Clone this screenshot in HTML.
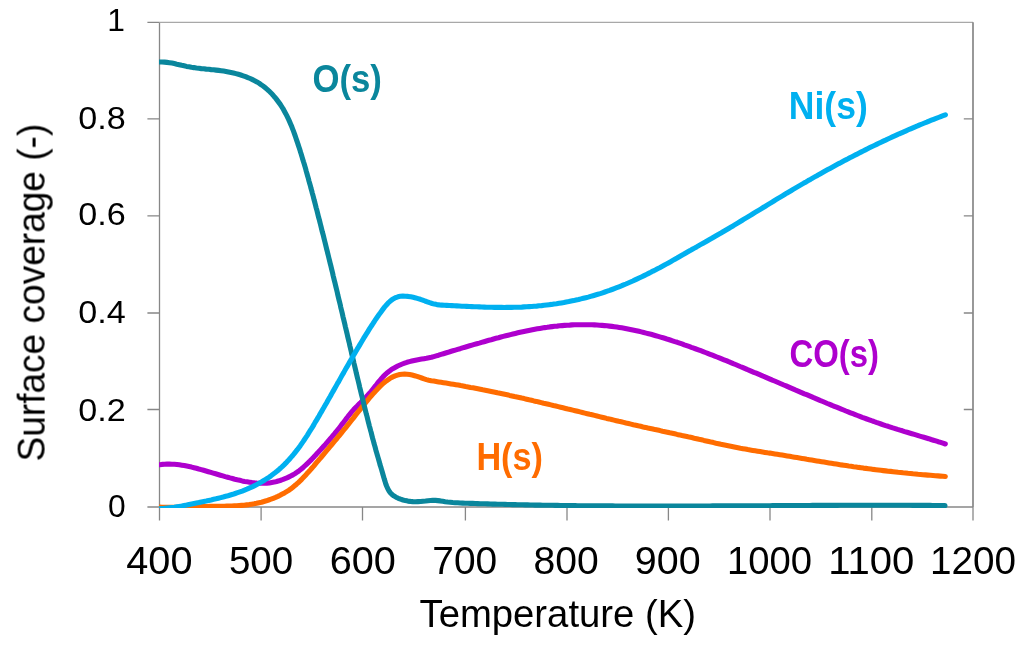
<!DOCTYPE html>
<html><head><meta charset="utf-8"><style>
html,body{margin:0;padding:0;background:#fff;width:1024px;height:645px;overflow:hidden}
svg{display:block}
text{font-family:"Liberation Sans",sans-serif;fill:#000}
.yl{font-size:31.8px}
.xl{font-size:38.2px}
.at{font-size:38.5px}
.sl{font-size:39px;font-weight:bold}
</style></head><body>
<svg width="1024" height="645" viewBox="0 0 1024 645">
<rect width="1024" height="645" fill="#fff"/>
<g stroke="#878787" stroke-width="1.3" fill="none">
<path d="M147.4 22.3H159.5M159.5 22.3V520.5"/>
<path d="M147.4 507.0H973.0" stroke-width="1.6"/>
<path d="M973.0 507.0V520.5"/>
<path d="M159.5 22.3H973.0" stroke="#a8a8a8" stroke-width="1.2"/>
<path d="M973.0 22.3V507.0" stroke="#878787" stroke-width="1.7"/>
<path d="M147.4 409.5H159.5M963.8 409.5H973.0"/>
<path d="M147.4 313.0H159.5M963.8 313.0H973.0"/>
<path d="M147.4 215.8H159.5M963.8 215.8H973.0"/>
<path d="M147.4 118.8H159.5M963.8 118.8H973.0"/>
<path d="M261.1 507.0V520.5"/>
<path d="M362.5 507.0V520.5"/>
<path d="M465.4 507.0V520.5"/>
<path d="M567.0 507.0V520.5"/>
<path d="M668.4 507.0V520.5"/>
<path d="M770.0 507.0V520.5"/>
<path d="M871.8 507.0V520.5"/>
</g>
<clipPath id="c"><rect x="159" y="0" width="865" height="508.1"/></clipPath>
<g clip-path="url(#c)" fill="none" stroke-width="5.1" stroke-linecap="round" stroke-linejoin="round">
<path d="M159.4 464.8L161.9 464.4 164.4 464.2 166.9 464.1 169.4 464.1 171.9 464.2 174.4 464.3 176.9 464.5 179.4 464.8 181.8 465.2 184.3 465.6 186.7 466.1 189.1 466.6 191.6 467.1 194.0 467.7 196.4 468.3 198.8 469.0 201.2 469.6 203.6 470.3 206.0 471.0 208.4 471.7 210.8 472.4 213.2 473.1 215.6 473.8 218.0 474.5 220.4 475.2 222.8 475.9 225.2 476.6 227.6 477.2 230.0 477.9 232.4 478.5 234.8 479.2 237.2 479.8 239.7 480.3 242.1 480.9 244.6 481.4 247.1 481.8 249.5 482.2 252.0 482.6 254.5 482.9 256.9 483.1 259.4 483.2 261.9 483.3 264.4 483.2 266.8 483.1 269.3 482.9 271.8 482.5 274.2 482.1 276.6 481.5 279.1 480.8 281.5 480.0 283.8 479.1 286.2 478.2 288.5 477.1 290.7 476.0 292.9 474.9 295.0 473.6 297.1 472.2 299.1 470.8 301.0 469.3 302.9 467.7 304.7 466.0 306.5 464.3 308.3 462.6 310.1 460.9 311.9 459.1 313.6 457.3 315.3 455.4 317.0 453.6 318.7 451.8 320.4 449.9 322.1 448.1 323.7 446.2 325.4 444.4 327.1 442.5 328.7 440.6 330.3 438.7 331.9 436.9 333.5 435.0 335.1 433.0 336.7 431.1 338.3 429.2 339.8 427.2 341.3 425.2 342.9 423.2 344.4 421.2 345.9 419.2 347.4 417.3 348.9 415.3 350.5 413.3 352.1 411.4 353.7 409.6 355.4 407.8 357.2 406.0 358.9 404.2 360.7 402.5 362.4 400.7 364.2 398.9 365.9 397.2 367.7 395.3 369.3 393.5 371.0 391.6 372.6 389.6 374.1 387.7 375.7 385.7 377.2 383.7 378.8 381.7 380.4 379.8 382.0 377.9 383.7 376.1 385.5 374.3 387.3 372.7 389.2 371.2 391.2 369.7 393.3 368.4 395.5 367.2 397.7 366.0 400.0 365.0 402.3 364.0 404.6 363.1 407.0 362.3 409.4 361.6 411.8 361.0 414.3 360.4 416.7 359.9 419.2 359.5 421.6 359.1 424.1 358.7 426.5 358.3 429.0 357.8 431.4 357.3 433.8 356.6 436.2 355.9 438.6 355.2 441.0 354.4 443.4 353.7 445.7 353.0 448.1 352.3 450.5 351.5 452.9 350.8 455.3 350.1 457.7 349.4 460.1 348.7 462.5 347.9 464.9 347.2 467.3 346.5 469.7 345.8 472.0 345.1 474.4 344.4 476.8 343.7 479.2 343.1 481.6 342.4 484.0 341.7 486.4 341.0 488.8 340.3 491.2 339.7 493.6 339.0 496.0 338.3 498.5 337.7 500.9 337.0 503.3 336.4 505.7 335.8 508.1 335.2 510.5 334.6 512.9 334.0 515.4 333.4 517.8 332.8 520.2 332.2 522.7 331.7 525.1 331.2 527.5 330.7 530.0 330.2 532.4 329.7 534.9 329.2 537.4 328.8 539.8 328.4 542.3 328.0 544.7 327.6 547.2 327.3 549.7 326.9 552.2 326.6 554.7 326.3 557.1 326.1 559.6 325.8 562.1 325.6 564.6 325.4 567.1 325.2 569.6 325.1 572.1 324.9 574.6 324.8 577.1 324.7 579.5 324.7 582.0 324.7 584.5 324.7 587.0 324.7 589.5 324.7 592.0 324.8 594.5 324.9 597.0 325.0 599.5 325.2 602.0 325.4 604.4 325.6 606.9 325.8 609.4 326.1 611.9 326.4 614.3 326.7 616.8 327.0 619.3 327.4 621.7 327.8 624.2 328.2 626.6 328.7 629.1 329.2 631.5 329.7 634.0 330.2 636.4 330.7 638.9 331.3 641.3 331.9 643.7 332.5 646.1 333.1 648.6 333.7 651.0 334.3 653.4 335.0 655.8 335.7 658.2 336.4 660.6 337.1 663.0 337.8 665.4 338.5 667.8 339.3 670.1 340.0 672.5 340.8 674.9 341.6 677.3 342.3 679.6 343.1 682.0 343.9 684.3 344.8 686.7 345.6 689.0 346.4 691.4 347.3 693.7 348.1 696.1 349.0 698.4 349.8 700.8 350.7 703.1 351.6 705.4 352.5 707.7 353.4 710.1 354.3 712.4 355.2 714.7 356.1 717.0 357.0 719.3 357.9 721.7 358.9 724.0 359.8 726.3 360.7 728.6 361.7 730.9 362.6 733.2 363.6 735.5 364.5 737.8 365.5 740.1 366.5 742.4 367.4 744.7 368.4 747.0 369.4 749.3 370.3 751.6 371.3 753.9 372.3 756.2 373.2 758.5 374.2 760.8 375.2 763.1 376.2 765.4 377.1 767.7 378.1 770.0 379.1 772.3 380.1 774.6 381.0 776.9 382.0 779.2 383.0 781.5 384.0 783.8 385.0 786.1 385.9 788.3 386.9 790.6 387.9 792.9 388.9 795.2 389.9 797.5 390.8 799.8 391.8 802.1 392.8 804.4 393.8 806.7 394.7 809.0 395.7 811.3 396.7 813.6 397.7 815.9 398.6 818.2 399.6 820.5 400.6 822.8 401.5 825.1 402.5 827.4 403.5 829.7 404.4 832.0 405.4 834.3 406.3 836.6 407.2 839.0 408.2 841.3 409.1 843.6 410.0 845.9 411.0 848.2 411.9 850.5 412.8 852.9 413.7 855.2 414.6 857.5 415.5 859.8 416.4 862.2 417.3 864.5 418.1 866.9 419.0 869.2 419.8 871.5 420.7 873.9 421.5 876.2 422.4 878.6 423.2 881.0 424.0 883.3 424.8 885.7 425.6 888.1 426.3 890.4 427.1 892.8 427.9 895.2 428.6 897.6 429.4 900.0 430.1 902.4 430.8 904.7 431.6 907.1 432.3 909.5 433.0 911.9 433.7 914.3 434.4 916.7 435.1 919.1 435.9 921.5 436.6 923.9 437.3 926.3 438.0 928.7 438.7 931.1 439.5 933.4 440.2 935.8 440.9 938.2 441.7 940.6 442.4 942.9 443.2 945.3 444.0" stroke="#ae00ce"/>
<path d="M159.5 507.1L162.0 507.2 164.5 507.2 167.0 507.3 169.5 507.3 172.0 507.3 174.4 507.3 176.9 507.3 179.4 507.2 181.9 507.2 184.4 507.1 186.9 507.1 189.4 507.0 191.9 506.9 194.4 506.9 196.9 506.8 199.4 506.7 201.9 506.6 204.4 506.5 206.9 506.5 209.4 506.4 211.9 506.4 214.4 506.3 216.8 506.3 219.3 506.2 221.8 506.2 224.3 506.2 226.8 506.1 229.3 506.1 231.8 506.0 234.3 505.9 236.7 505.8 239.2 505.6 241.7 505.4 244.2 505.2 246.7 504.9 249.2 504.6 251.6 504.2 254.1 503.8 256.6 503.3 259.0 502.7 261.5 502.2 263.9 501.5 266.3 500.8 268.7 500.0 271.0 499.2 273.3 498.3 275.6 497.4 277.9 496.4 280.1 495.3 282.3 494.1 284.5 492.9 286.6 491.6 288.7 490.3 290.7 488.9 292.6 487.4 294.6 485.8 296.5 484.2 298.3 482.6 300.1 480.9 301.9 479.1 303.6 477.3 305.3 475.5 307.0 473.6 308.7 471.8 310.4 469.9 312.0 468.0 313.7 466.1 315.3 464.1 316.9 462.2 318.5 460.3 320.2 458.4 321.8 456.5 323.4 454.6 325.0 452.7 326.6 450.7 328.2 448.8 329.8 446.9 331.4 445.0 333.0 443.1 334.6 441.2 336.2 439.3 337.7 437.4 339.3 435.5 340.9 433.6 342.4 431.7 344.0 429.7 345.6 427.8 347.1 425.9 348.7 423.9 350.2 422.0 351.7 420.0 353.3 418.1 354.8 416.1 356.3 414.2 357.9 412.2 359.4 410.3 361.0 408.3 362.5 406.4 364.1 404.4 365.7 402.5 367.3 400.6 368.9 398.6 370.5 396.7 372.2 394.8 373.9 392.9 375.6 391.1 377.3 389.2 379.0 387.4 380.8 385.6 382.7 383.9 384.6 382.3 386.5 380.8 388.6 379.4 390.6 378.0 392.8 376.9 395.1 375.9 397.4 375.1 399.7 374.5 402.1 374.2 404.6 374.1 407.1 374.2 409.6 374.5 412.1 375.0 414.6 375.7 417.0 376.4 419.3 377.2 421.7 378.0 424.1 378.8 426.4 379.6 428.8 380.2 431.2 380.7 433.7 381.1 436.2 381.5 438.6 381.9 441.1 382.3 443.5 382.7 446.0 383.1 448.5 383.5 450.9 383.9 453.4 384.3 455.8 384.7 458.3 385.1 460.7 385.6 463.2 386.0 465.6 386.5 468.1 386.9 470.5 387.4 473.0 387.8 475.4 388.3 477.9 388.8 480.3 389.3 482.8 389.8 485.2 390.2 487.7 390.7 490.1 391.2 492.5 391.7 495.0 392.2 497.4 392.8 499.9 393.3 502.3 393.8 504.7 394.3 507.2 394.8 509.6 395.4 512.0 395.9 514.5 396.5 516.9 397.0 519.3 397.5 521.8 398.1 524.2 398.6 526.6 399.2 529.1 399.8 531.5 400.3 533.9 400.9 536.4 401.4 538.8 402.0 541.2 402.6 543.6 403.2 546.1 403.7 548.5 404.3 550.9 404.9 553.3 405.5 555.8 406.0 558.2 406.6 560.6 407.2 563.0 407.8 565.5 408.4 567.9 409.0 570.3 409.5 572.7 410.1 575.2 410.7 577.6 411.3 580.0 411.9 582.4 412.5 584.8 413.1 587.3 413.7 589.7 414.3 592.1 414.8 594.5 415.4 597.0 416.0 599.4 416.6 601.8 417.2 604.2 417.8 606.6 418.4 609.1 418.9 611.5 419.5 613.9 420.1 616.3 420.7 618.8 421.3 621.2 421.8 623.6 422.4 626.0 423.0 628.5 423.5 630.9 424.1 633.3 424.7 635.8 425.2 638.2 425.8 640.6 426.3 643.1 426.9 645.5 427.4 647.9 428.0 650.3 428.5 652.8 429.0 655.2 429.6 657.6 430.1 660.1 430.6 662.5 431.2 665.0 431.7 667.4 432.2 669.8 432.8 672.3 433.3 674.7 433.8 677.1 434.4 679.6 434.9 682.0 435.5 684.4 436.0 686.9 436.5 689.3 437.1 691.7 437.6 694.2 438.2 696.6 438.7 699.0 439.3 701.5 439.8 703.9 440.4 706.3 440.9 708.8 441.5 711.2 442.1 713.6 442.6 716.0 443.2 718.5 443.7 720.9 444.3 723.3 444.8 725.8 445.3 728.2 445.8 730.7 446.3 733.1 446.8 735.5 447.3 738.0 447.8 740.4 448.3 742.9 448.7 745.3 449.1 747.8 449.6 750.2 450.0 752.7 450.4 755.2 450.8 757.6 451.2 760.1 451.6 762.5 452.0 765.0 452.4 767.5 452.8 769.9 453.1 772.4 453.5 774.9 453.9 777.3 454.3 779.8 454.7 782.2 455.1 784.7 455.5 787.2 455.9 789.6 456.3 792.1 456.8 794.5 457.2 797.0 457.6 799.5 458.0 801.9 458.4 804.4 458.8 806.8 459.3 809.3 459.7 811.7 460.1 814.2 460.5 816.7 460.9 819.1 461.3 821.6 461.7 824.0 462.1 826.5 462.5 829.0 462.9 831.4 463.3 833.9 463.7 836.4 464.1 838.8 464.5 841.3 464.9 843.7 465.2 846.2 465.6 848.7 466.0 851.1 466.3 853.6 466.7 856.1 467.0 858.6 467.4 861.0 467.7 863.5 468.1 866.0 468.4 868.4 468.7 870.9 469.0 873.4 469.4 875.8 469.7 878.3 470.0 880.8 470.3 883.3 470.6 885.7 470.9 888.2 471.2 890.7 471.4 893.2 471.7 895.7 472.0 898.1 472.3 900.6 472.5 903.1 472.8 905.6 473.0 908.0 473.3 910.5 473.5 913.0 473.8 915.5 474.0 918.0 474.3 920.5 474.5 922.9 474.7 925.4 474.9 927.9 475.1 930.4 475.3 932.9 475.5 935.4 475.7 937.9 475.9 940.3 476.1 942.8 476.3 945.3 476.5" stroke="#ff6c00"/>
<path d="M159.5 62.0L162.0 62.0 164.5 62.1 167.0 62.4 169.4 62.7 171.9 63.1 174.3 63.6 176.8 64.2 179.2 64.7 181.7 65.3 184.1 65.8 186.5 66.4 189.0 66.8 191.4 67.3 193.9 67.6 196.4 68.0 198.8 68.3 201.3 68.6 203.7 68.8 206.2 69.1 208.7 69.3 211.2 69.6 213.6 69.8 216.1 70.1 218.6 70.4 221.1 70.7 223.6 71.1 226.0 71.5 228.5 72.0 231.0 72.5 233.5 73.0 235.9 73.6 238.4 74.3 240.8 75.0 243.2 75.8 245.6 76.6 247.9 77.6 250.2 78.5 252.5 79.6 254.7 80.7 256.9 81.9 259.0 83.2 261.0 84.6 263.1 86.0 265.0 87.5 266.9 89.1 268.8 90.8 270.5 92.5 272.3 94.3 273.9 96.2 275.6 98.1 277.1 100.1 278.6 102.1 280.1 104.1 281.4 106.2 282.8 108.3 284.0 110.5 285.2 112.7 286.4 114.9 287.5 117.1 288.6 119.4 289.6 121.6 290.6 123.9 291.6 126.3 292.5 128.6 293.4 130.9 294.3 133.3 295.1 135.6 295.9 138.0 296.7 140.4 297.5 142.7 298.3 145.1 299.1 147.5 299.9 149.9 300.6 152.3 301.4 154.7 302.1 157.1 302.8 159.4 303.5 161.8 304.3 164.2 305.0 166.6 305.7 169.0 306.3 171.4 307.0 173.8 307.7 176.2 308.4 178.6 309.0 181.1 309.7 183.5 310.4 185.9 311.0 188.3 311.7 190.7 312.3 193.1 313.0 195.5 313.6 197.9 314.2 200.3 314.9 202.8 315.5 205.2 316.1 207.6 316.8 210.0 317.4 212.4 318.0 214.8 318.6 217.3 319.3 219.7 319.9 222.1 320.5 224.5 321.1 226.9 321.7 229.4 322.3 231.8 323.0 234.2 323.6 236.6 324.2 239.1 324.8 241.5 325.4 243.9 326.0 246.3 326.6 248.8 327.2 251.2 327.8 253.6 328.4 256.0 329.0 258.5 329.6 260.9 330.2 263.3 330.8 265.7 331.4 268.2 332.0 270.6 332.6 273.0 333.1 275.5 333.7 277.9 334.3 280.3 334.9 282.7 335.5 285.2 336.1 287.6 336.7 290.0 337.3 292.5 337.8 294.9 338.4 297.3 339.0 299.8 339.6 302.2 340.2 304.6 340.7 307.1 341.3 309.5 341.9 311.9 342.5 314.4 343.0 316.8 343.6 319.2 344.2 321.6 344.8 324.1 345.3 326.5 345.9 328.9 346.5 331.4 347.1 333.8 347.6 336.2 348.2 338.7 348.8 341.1 349.4 343.5 349.9 346.0 350.5 348.4 351.1 350.8 351.6 353.3 352.2 355.7 352.8 358.1 353.4 360.6 353.9 363.0 354.5 365.4 355.1 367.9 355.7 370.3 356.2 372.7 356.8 375.2 357.4 377.6 358.0 380.0 358.6 382.5 359.2 384.9 359.7 387.3 360.3 389.7 360.9 392.2 361.5 394.6 362.1 397.0 362.7 399.4 363.3 401.9 363.9 404.3 364.5 406.7 365.1 409.1 365.7 411.6 366.3 414.0 367.0 416.4 367.6 418.8 368.2 421.3 368.8 423.7 369.4 426.1 370.1 428.5 370.7 430.9 371.4 433.3 372.0 435.8 372.6 438.2 373.3 440.6 373.9 443.0 374.6 445.4 375.3 447.8 375.9 450.2 376.6 452.6 377.3 455.0 378.0 457.4 378.7 459.8 379.4 462.2 380.0 464.6 380.8 467.0 381.5 469.4 382.2 471.8 382.9 474.3 383.6 476.7 384.3 479.1 385.1 481.6 385.8 484.0 386.7 486.3 387.7 488.6 388.9 490.7 390.3 492.7 392.0 494.4 393.9 495.9 396.0 497.2 398.3 498.3 400.6 499.2 403.0 500.0 405.4 500.6 407.9 501.1 410.4 501.4 413.0 501.6 415.5 501.7 418.0 501.6 420.6 501.5 423.1 501.2 425.6 501.0 428.0 500.7 430.5 500.5 432.9 500.3 435.4 500.4 437.8 500.6 440.3 500.9 442.8 501.3 445.2 501.7 447.7 502.0 450.2 502.2 452.7 502.5 455.2 502.7 457.7 502.8 460.2 503.0 462.7 503.1 465.2 503.2 467.7 503.3 470.2 503.4 472.7 503.4 475.2 503.5 477.7 503.6 480.2 503.7 482.7 503.8 485.2 503.8 487.7 503.9 490.2 504.0 492.7 504.1 495.1 504.1 497.6 504.2 500.1 504.3 502.6 504.3 505.1 504.4 507.6 504.5 510.1 504.5 512.6 504.6 515.1 504.6 517.6 504.7 520.1 504.7 522.6 504.8 525.1 504.9 527.6 504.9 530.1 505.0 532.6 505.0 535.1 505.1 537.6 505.1 540.1 505.1 542.6 505.2 545.1 505.2 547.6 505.3 550.1 505.3 552.6 505.3 555.1 505.4 557.6 505.4 560.1 505.5 562.6 505.5 565.1 505.5 567.6 505.6 570.1 505.6 572.6 505.6 575.1 505.6 577.6 505.7 580.1 505.7 582.6 505.7 585.1 505.7 587.6 505.8 590.1 505.8 592.6 505.8 595.1 505.8 597.6 505.9 600.1 505.9 602.6 505.9 605.1 505.9 607.6 505.9 610.1 505.9 612.6 505.9 615.1 506.0 617.6 506.0 620.1 506.0 622.6 506.0 625.1 506.0 627.6 506.0 630.1 506.0 632.6 506.0 635.1 506.0 637.6 506.0 640.1 506.0 642.6 506.1 645.1 506.1 647.6 506.1 650.1 506.1 652.6 506.1 655.1 506.1 657.6 506.1 660.1 506.1 662.6 506.1 665.1 506.1 667.6 506.1 670.1 506.1 672.6 506.1 675.1 506.1 677.6 506.0 680.1 506.0 682.6 506.0 685.1 506.0 687.6 506.0 690.1 506.0 692.6 506.0 695.1 506.0 697.6 506.0 700.1 506.0 702.6 506.0 705.1 506.0 707.6 506.0 710.1 506.0 712.6 505.9 715.1 505.9 717.6 505.9 720.1 505.9 722.6 505.9 725.1 505.9 727.6 505.9 730.1 505.9 732.6 505.9 735.1 505.8 737.6 505.8 740.1 505.8 742.6 505.8 745.1 505.8 747.6 505.8 750.1 505.8 752.6 505.8 755.1 505.7 757.6 505.7 760.1 505.7 762.6 505.7 765.1 505.7 767.6 505.7 770.1 505.7 772.6 505.6 775.1 505.6 777.6 505.6 780.1 505.6 782.6 505.6 785.1 505.6 787.6 505.6 790.1 505.6 792.6 505.5 795.0 505.5 797.5 505.5 800.0 505.5 802.5 505.5 805.0 505.5 807.5 505.5 810.0 505.5 812.5 505.4 815.0 505.4 817.5 505.4 820.0 505.4 822.5 505.4 825.0 505.4 827.5 505.4 830.0 505.4 832.5 505.4 835.0 505.4 837.5 505.4 840.0 505.3 842.5 505.3 845.0 505.3 847.5 505.3 850.0 505.3 852.5 505.3 855.0 505.3 857.5 505.3 860.0 505.3 862.5 505.3 865.0 505.3 867.5 505.3 870.0 505.3 872.5 505.3 875.0 505.3 877.5 505.3 880.0 505.3 882.5 505.3 885.0 505.3 887.5 505.3 890.0 505.3 892.5 505.3 895.0 505.3 897.5 505.3 900.0 505.3 902.5 505.3 905.0 505.3 907.5 505.3 910.0 505.3 912.5 505.4 915.0 505.4 917.5 505.4 920.0 505.4 922.5 505.4 925.0 505.4 927.5 505.4 930.0 505.4 932.5 505.5 935.0 505.5 937.5 505.5 940.0 505.5 942.5 505.5 945.0 505.6" stroke="#0a869c"/>
<path d="M159.5 508.8L162.0 508.6 164.5 508.4 167.0 508.1 169.4 507.8 171.9 507.5 174.4 507.2 176.8 506.8 179.3 506.4 181.8 506.0 184.2 505.5 186.7 505.1 189.1 504.6 191.6 504.1 194.0 503.6 196.5 503.1 198.9 502.6 201.4 502.0 203.8 501.5 206.3 501.0 208.7 500.4 211.1 499.9 213.6 499.3 216.0 498.8 218.4 498.2 220.8 497.6 223.2 497.0 225.7 496.3 228.0 495.7 230.4 495.0 232.8 494.3 235.2 493.5 237.6 492.7 239.9 491.9 242.2 491.1 244.6 490.1 246.9 489.2 249.2 488.2 251.5 487.2 253.7 486.1 256.0 484.9 258.2 483.8 260.4 482.6 262.6 481.3 264.7 480.0 266.8 478.6 268.9 477.3 271.0 475.8 273.0 474.3 275.0 472.8 276.9 471.3 278.8 469.7 280.7 468.0 282.5 466.3 284.3 464.6 286.0 462.9 287.7 461.1 289.4 459.2 291.0 457.4 292.7 455.5 294.2 453.6 295.8 451.6 297.3 449.7 298.8 447.7 300.3 445.7 301.7 443.6 303.1 441.6 304.5 439.5 305.9 437.4 307.3 435.3 308.6 433.2 309.9 431.0 311.3 428.9 312.6 426.8 313.9 424.6 315.1 422.4 316.4 420.3 317.7 418.1 319.0 416.0 320.2 413.8 321.5 411.6 322.7 409.5 324.0 407.3 325.2 405.1 326.5 403.0 327.7 400.8 328.9 398.6 330.2 396.5 331.4 394.3 332.6 392.1 333.9 389.9 335.1 387.8 336.3 385.6 337.5 383.4 338.8 381.3 340.0 379.1 341.2 376.9 342.4 374.8 343.7 372.6 344.9 370.4 346.1 368.3 347.4 366.1 348.6 364.0 349.8 361.8 351.1 359.7 352.3 357.5 353.6 355.3 354.8 353.2 356.1 351.0 357.3 348.9 358.6 346.8 359.9 344.6 361.2 342.5 362.5 340.3 363.7 338.2 365.0 336.1 366.4 333.9 367.7 331.8 369.0 329.7 370.3 327.6 371.7 325.5 373.1 323.4 374.4 321.3 375.8 319.2 377.3 317.1 378.7 315.0 380.2 313.0 381.7 310.9 383.2 308.9 384.7 306.9 386.4 305.0 388.0 303.2 389.8 301.5 391.6 300.0 393.6 298.7 395.7 297.6 397.9 296.8 400.3 296.3 402.9 296.1 405.5 296.2 408.1 296.4 410.7 296.8 413.2 297.3 415.7 297.9 418.0 298.6 420.4 299.3 422.7 300.1 425.0 301.0 427.3 301.8 429.7 302.7 432.1 303.5 434.5 304.1 436.9 304.6 439.4 304.9 441.9 305.1 444.3 305.3 446.8 305.4 449.3 305.5 451.8 305.6 454.3 305.8 456.8 305.9 459.3 306.0 461.8 306.2 464.3 306.3 466.8 306.4 469.3 306.5 471.8 306.6 474.3 306.7 476.8 306.8 479.3 306.9 481.8 307.0 484.3 307.1 486.8 307.2 489.3 307.3 491.8 307.3 494.3 307.4 496.8 307.4 499.3 307.4 501.7 307.4 504.2 307.5 506.7 307.4 509.2 307.4 511.7 307.4 514.2 307.3 516.7 307.2 519.2 307.2 521.7 307.1 524.2 306.9 526.7 306.8 529.2 306.6 531.7 306.5 534.2 306.3 536.7 306.1 539.1 305.8 541.6 305.6 544.1 305.3 546.6 305.0 549.1 304.7 551.5 304.4 554.0 304.0 556.5 303.7 559.0 303.3 561.4 302.9 563.9 302.5 566.3 302.0 568.8 301.6 571.2 301.1 573.7 300.6 576.1 300.0 578.6 299.5 581.0 298.9 583.4 298.3 585.8 297.7 588.2 297.1 590.6 296.4 593.0 295.7 595.4 295.0 597.8 294.3 600.2 293.6 602.6 292.8 604.9 292.0 607.3 291.2 609.6 290.4 612.0 289.5 614.3 288.6 616.7 287.7 619.0 286.8 621.3 285.9 623.6 284.9 625.9 284.0 628.2 283.0 630.5 282.0 632.8 281.0 635.1 279.9 637.3 278.9 639.6 277.8 641.9 276.7 644.1 275.6 646.4 274.5 648.6 273.4 650.8 272.3 653.0 271.1 655.3 270.0 657.5 268.8 659.7 267.7 661.9 266.5 664.1 265.3 666.2 264.1 668.4 262.9 670.6 261.7 672.8 260.4 674.9 259.2 677.1 258.0 679.3 256.7 681.4 255.5 683.6 254.3 685.8 253.0 687.9 251.8 690.1 250.6 692.3 249.3 694.4 248.1 696.6 246.9 698.8 245.6 700.9 244.4 703.1 243.2 705.3 242.0 707.5 240.7 709.6 239.5 711.8 238.3 714.0 237.0 716.1 235.8 718.3 234.5 720.5 233.3 722.6 232.0 724.8 230.7 726.9 229.5 729.1 228.2 731.2 226.9 733.4 225.7 735.5 224.4 737.6 223.1 739.8 221.8 741.9 220.5 744.0 219.2 746.2 217.9 748.3 216.6 750.4 215.3 752.6 214.0 754.7 212.7 756.8 211.4 759.0 210.1 761.1 208.8 763.2 207.5 765.4 206.2 767.5 204.9 769.6 203.6 771.7 202.3 773.9 201.0 776.0 199.7 778.1 198.4 780.3 197.1 782.4 195.8 784.6 194.5 786.7 193.2 788.8 192.0 791.0 190.7 793.1 189.4 795.3 188.1 797.4 186.9 799.6 185.6 801.7 184.4 803.9 183.1 806.1 181.9 808.2 180.6 810.4 179.4 812.6 178.1 814.7 176.9 816.9 175.7 819.1 174.4 821.3 173.2 823.4 172.0 825.6 170.8 827.8 169.6 830.0 168.4 832.2 167.2 834.4 166.0 836.6 164.8 838.8 163.6 841.0 162.5 843.2 161.3 845.4 160.1 847.6 159.0 849.8 157.8 852.0 156.7 854.3 155.5 856.5 154.4 858.7 153.2 860.9 152.1 863.2 151.0 865.4 149.9 867.6 148.8 869.9 147.6 872.1 146.5 874.3 145.5 876.6 144.4 878.8 143.3 881.1 142.2 883.3 141.1 885.6 140.1 887.9 139.0 890.1 138.0 892.4 136.9 894.7 135.9 896.9 134.9 899.2 133.8 901.5 132.8 903.8 131.8 906.1 130.8 908.3 129.8 910.6 128.8 912.9 127.8 915.2 126.8 917.5 125.9 919.8 124.9 922.1 124.0 924.5 123.0 926.8 122.1 929.1 121.1 931.4 120.2 933.7 119.3 936.1 118.4 938.4 117.5 940.7 116.6 943.1 115.7 945.4 114.8" stroke="#00b0f0"/>
</g>
<defs><filter id="g" x="0" y="0" width="1" height="1"><feOffset dx="0" dy="0"/></filter></defs>
<g filter="url(#g)">
<text x="125.80" y="516.60" text-anchor="end" class="yl">0</text>
<text x="125.80" y="420.60" text-anchor="end" class="yl" textLength="47.50" lengthAdjust="spacingAndGlyphs">0.2</text>
<text x="125.80" y="322.60" text-anchor="end" class="yl" textLength="47.50" lengthAdjust="spacingAndGlyphs">0.4</text>
<text x="125.80" y="225.40" text-anchor="end" class="yl" textLength="47.50" lengthAdjust="spacingAndGlyphs">0.6</text>
<text x="125.80" y="129.40" text-anchor="end" class="yl" textLength="47.50" lengthAdjust="spacingAndGlyphs">0.8</text>
<text x="125.00" y="31.00" text-anchor="end" class="yl">1</text>
<text x="159.35" y="573.80" text-anchor="middle" class="xl" textLength="66.20" lengthAdjust="spacingAndGlyphs">400</text>
<text x="261.10" y="573.80" text-anchor="middle" class="xl" textLength="64.30" lengthAdjust="spacingAndGlyphs">500</text>
<text x="362.75" y="573.80" text-anchor="middle" class="xl" textLength="66.20" lengthAdjust="spacingAndGlyphs">600</text>
<text x="464.70" y="573.80" text-anchor="middle" class="xl" textLength="64.90" lengthAdjust="spacingAndGlyphs">700</text>
<text x="566.15" y="573.80" text-anchor="middle" class="xl" textLength="65.20" lengthAdjust="spacingAndGlyphs">800</text>
<text x="667.75" y="573.80" text-anchor="middle" class="xl" textLength="65.80" lengthAdjust="spacingAndGlyphs">900</text>
<text x="769.50" y="573.80" text-anchor="middle" class="xl" textLength="85.00" lengthAdjust="spacingAndGlyphs">1000</text>
<text x="871.35" y="573.80" text-anchor="middle" class="xl" textLength="86.10" lengthAdjust="spacingAndGlyphs">1100</text>
<text x="972.90" y="573.80" text-anchor="middle" class="xl" textLength="86.00" lengthAdjust="spacingAndGlyphs">1200</text>
<text x="419.50" y="627.30" class="at" textLength="276.50" lengthAdjust="spacingAndGlyphs">Temperature (K)</text>
<text transform="translate(44.60,461.50) rotate(-90)" class="at" textLength="337.80" lengthAdjust="spacingAndGlyphs">Surface coverage (-)</text>
<text x="312.40" y="91.60" class="sl" textLength="69.50" lengthAdjust="spacingAndGlyphs" style="fill:#0a869c">O(s)</text>
<text x="788.80" y="119.10" class="sl" textLength="79.00" lengthAdjust="spacingAndGlyphs" style="fill:#00b0f0">Ni(s)</text>
<text x="789.40" y="367.10" class="sl" textLength="89.60" lengthAdjust="spacingAndGlyphs" style="fill:#ae00ce">CO(s)</text>
<text x="476.40" y="469.70" class="sl" textLength="66.60" lengthAdjust="spacingAndGlyphs" style="fill:#ff6c00">H(s)</text>
</g>
</svg>
</body></html>
